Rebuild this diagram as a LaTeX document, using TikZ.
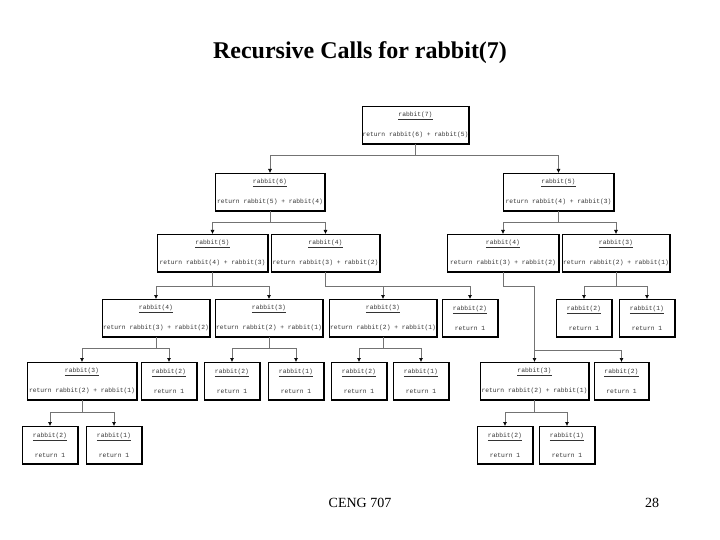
\documentclass[tikz,border=0pt]{standalone}
\usepackage{fontspec}
\setmainfont{Liberation Serif}
\newfontfamily\boxmono{Liberation Mono}
\usetikzlibrary{arrows.meta}
\tikzset{
  box/.style={draw=black, line width=0.6pt, fill=white, inner sep=0pt, outer sep=0pt,
    align=center, font=\boxmono\fontsize{6.3}{7}\selectfont, text=black!80},
  conn/.style={draw=black!55, line width=0.6pt, -{Latex[length=4pt,width=4pt,color=black]}},
  connline/.style={draw=black!55, line width=0.6pt},
  shadowline/.style={draw=black, line width=1.5pt},
}
\newcommand{\bx}[7]{%
  \node[box, minimum width={(#4-#2)*1pt}, minimum height={(#5-#3)*1pt}] (#1)
    at ({(#2+#4)/2},{(#3+#5)/2}) {\underline{#6}\\[11pt]#7};}
\newcommand{\edg}[3]{\draw[conn] (#1.south) -- ++(0,#3) -| (#2.north);}
\begin{document}
\begin{tikzpicture}[x=1pt,y=-1pt]
\useasboundingbox (0,0) rectangle (720,540);
% title and footer
\node[font=\bfseries\fontsize{24}{28}\selectfont] (title) at (360,53) {Recursive Calls for rabbit(7)};
\node[font=\fontsize{14}{16}\selectfont] (footl) at (360,503) {CENG 707};
\node[font=\fontsize{14}{16}\selectfont] (footr) at (652,503) {28};
% level 1
\bx{r7}{362}{106}{469}{144}{rabbit(7)}{return rabbit(6) + rabbit(5)}
% level 2
\bx{ba}{215}{173}{325}{211}{rabbit(6)}{return rabbit(5) + rabbit(4)}
\bx{bb}{503}{173}{614}{211}{rabbit(5)}{return rabbit(4) + rabbit(3)}
% level 3
\bx{ca}{157}{234}{268}{272}{rabbit(5)}{return rabbit(4) + rabbit(3)}
\bx{cb}{271}{234}{380}{272}{rabbit(4)}{return rabbit(3) + rabbit(2)}
\bx{cc}{447}{234}{559}{272}{rabbit(4)}{return rabbit(3) + rabbit(2)}
\bx{cd}{562}{234}{670}{272}{rabbit(3)}{return rabbit(2) + rabbit(1)}
% level 4
\bx{da}{102}{299}{210}{337}{rabbit(4)}{return rabbit(3) + rabbit(2)}
\bx{db}{215}{299}{323}{337}{rabbit(3)}{return rabbit(2) + rabbit(1)}
\bx{dc}{329}{299}{437}{337}{rabbit(3)}{return rabbit(2) + rabbit(1)}
\bx{dd}{442}{299}{498}{337}{rabbit(2)}{return 1}
\bx{de}{556}{299}{612}{337}{rabbit(2)}{return 1}
\bx{df}{619}{299}{675}{337}{rabbit(1)}{return 1}
% level 5
\bx{ea}{27}{362}{137}{400}{rabbit(3)}{return rabbit(2) + rabbit(1)}
\bx{eb}{141}{362}{197}{400}{rabbit(2)}{return 1}
\bx{ec}{204}{362}{260}{400}{rabbit(2)}{return 1}
\bx{ed}{268}{362}{324}{400}{rabbit(1)}{return 1}
\bx{ee}{331}{362}{387}{400}{rabbit(2)}{return 1}
\bx{ef}{393}{362}{449}{400}{rabbit(1)}{return 1}
\bx{eg}{480}{362}{589}{400}{rabbit(3)}{return rabbit(2) + rabbit(1)}
\bx{eh}{594}{362}{649}{400}{rabbit(2)}{return 1}
% level 6
\bx{fa}{22}{426}{78}{464}{rabbit(2)}{return 1}
\bx{fb}{86}{426}{142}{464}{rabbit(1)}{return 1}
\bx{fc}{477}{426}{533}{464}{rabbit(2)}{return 1}
\bx{fd}{539}{426}{595}{464}{rabbit(1)}{return 1}
% shadows
\foreach \n in {r7,ba,bb,ca,cb,cc,cd,da,db,dc,dd,de,df,ea,eb,ec,ed,ee,ef,eg,eh,fa,fb,fc,fd}
  \draw[shadowline] (\n.north east) -- (\n.south east) -- (\n.south west);
% connectors
\edg{r7}{ba}{11}\edg{r7}{bb}{11}
\edg{ba}{ca}{11}\edg{ba}{cb}{11}
\edg{bb}{cc}{11}\edg{bb}{cd}{11}
\edg{ca}{da}{14}\edg{ca}{db}{14}
\edg{cb}{dc}{14}\edg{cb}{dd}{14}
\edg{cd}{de}{14}\edg{cd}{df}{14}
\edg{cc}{eg}{14}
\coordinate (egbus) at ([yshift=12pt]eg.north);
\draw[conn] (egbus) -| (eh.north);
\edg{da}{ea}{11}\edg{da}{eb}{11}
\edg{db}{ec}{11}\edg{db}{ed}{11}
\edg{dc}{ee}{11}\edg{dc}{ef}{11}
\edg{ea}{fa}{12}\edg{ea}{fb}{12}
\edg{eg}{fc}{12}\edg{eg}{fd}{12}
\end{tikzpicture}
\end{document}
